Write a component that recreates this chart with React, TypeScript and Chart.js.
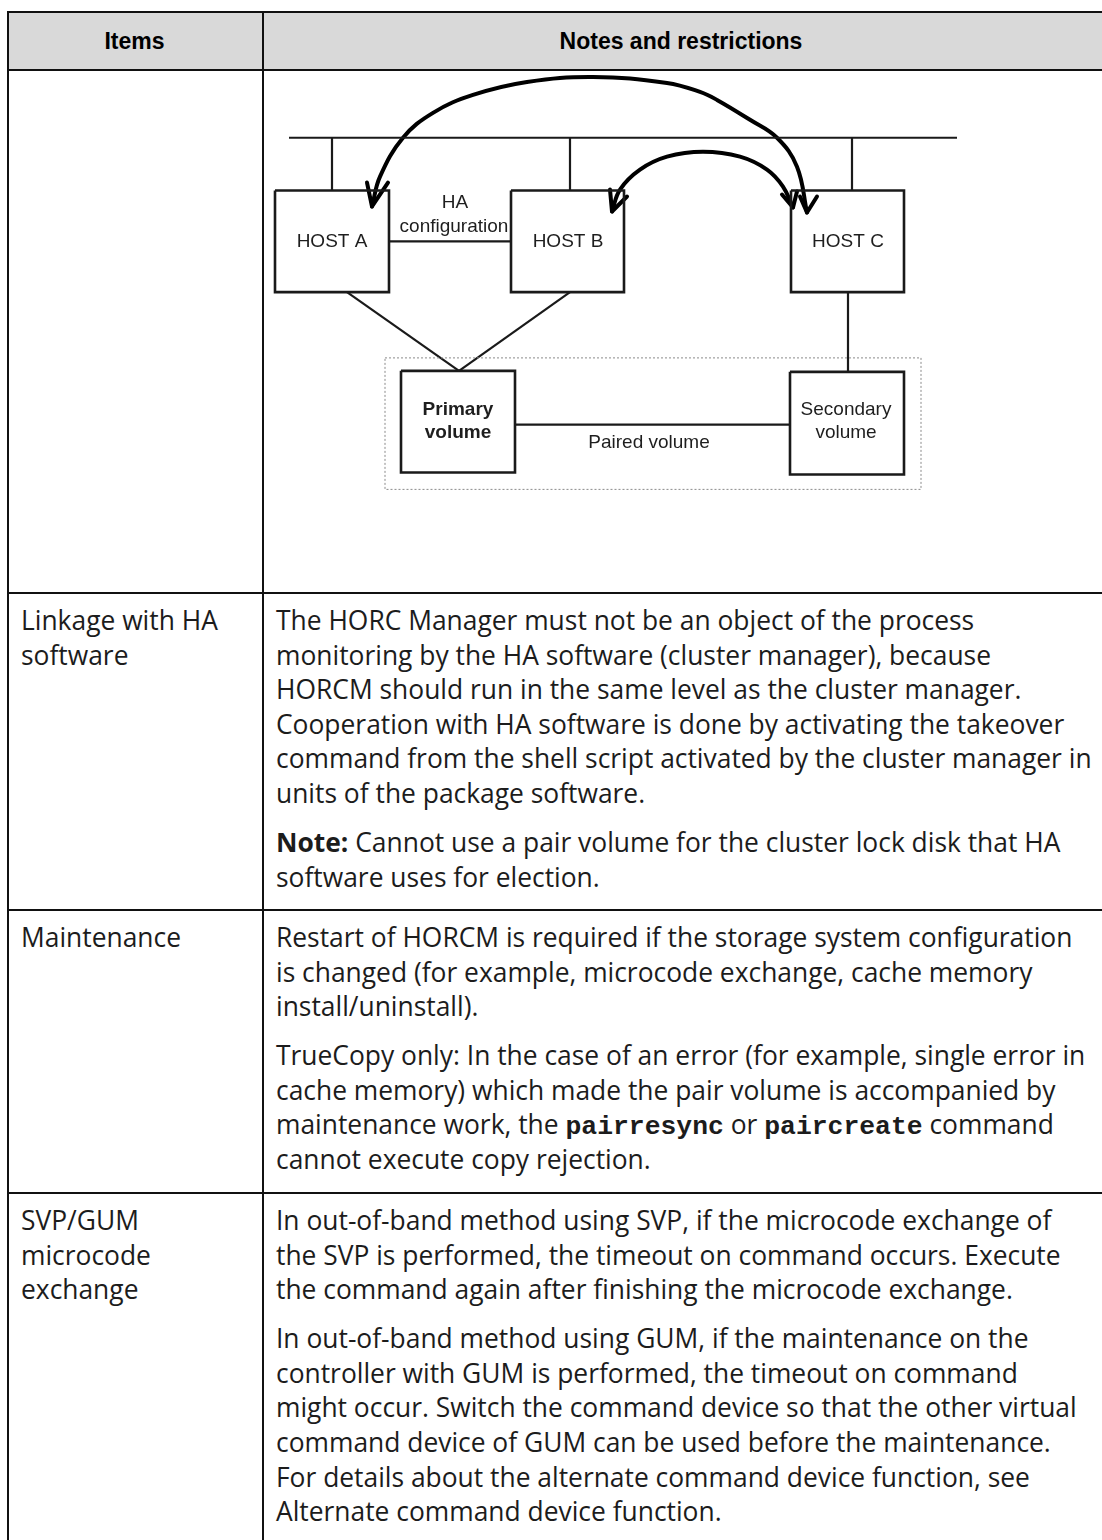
import React, { useEffect, useRef } from 'react';
import { Chart, registerables } from 'chart.js';

Chart.register(...registerables);

// ---------- Diagram data (diagram units inside the cell) ----------
const nodeLabels: string[][] = [['HOST A'], ['HOST B'], ['HOST C'], ['Primary', 'volume'], ['Secondary', 'volume']];
const nodeBold = [false, false, false, true, false];
const nodeLeft = [11, 247, 527, 137, 526];
const nodeRight = [125, 360, 640, 251, 640];
const nodeTop = [119, 119, 119, 300, 301];
const nodeBottom = [221, 221, 221, 402, 404];
const nodeLabelX = [68, 304, 584, 194, 582];
const nodeLabelY = [170, 170, 170, 351, 351];

const busX = [25, 693];
const busY = [66, 66];
const dropX = [68, 306, 588];
const dropTopY = [66, 66, 66];
const dropBottomY = [119, 119, 119];

// connections: [x1, y1, x2, y2]
const linkX1 = [125, 83, 306, 584, 251];
const linkY1 = [170, 221, 221, 221, 354];
const linkX2 = [247, 195, 195, 584, 526];
const linkY2 = [170, 300, 300, 301, 354];

const groupX = [121, 657];
const groupY = [287, 419];

const bigArcX = [108, 116, 139, 169, 209, 263, 329, 403, 436, 453, 486, 513, 533, 543];
const bigArcY = [135, 105, 66, 41, 23, 10, 5, 11, 20, 28, 48, 66, 95, 141];
const smallArcX = [348, 356, 376, 403, 439, 476, 503, 519, 529];
const smallArcY = [140, 118, 98, 85, 80, 85, 98, 115, 136];

const headX = [[103, 108, 124], [346, 348, 363], [536, 543, 553], [518, 529, 533]];
const headY = [[111, 135, 111], [118, 140, 125], [125, 141, 125], [123, 136, 120]];

const freeText = ['HA', 'configuration', 'Paired volume'];
const freeTextX = [191, 190, 385];
const freeTextY = [131, 155, 372];

// ---------- Table text ----------
const headerItems = 'Items';
const headerNotes = 'Notes and restrictions';
const itemLabels: string[][] = [['Linkage with HA', 'software'], ['Maintenance'], ['SVP/GUM', 'microcode', 'exchange']];

type Seg = { t: string; b?: boolean; m?: boolean };
const notes: Seg[][][][] = [
  [
    [
      [{ t: 'The HORC Manager must not be an object of the process' }],
      [{ t: 'monitoring by the HA software (cluster manager), because' }],
      [{ t: 'HORCM should run in the same level as the cluster manager.' }],
      [{ t: 'Cooperation with HA software is done by activating the takeover' }],
      [{ t: 'command from the shell script activated by the cluster manager in' }],
      [{ t: 'units of the package software.' }],
    ],
    [
      [{ t: 'Note:', b: true }, { t: ' Cannot use a pair volume for the cluster lock disk that HA' }],
      [{ t: 'software uses for election.' }],
    ],
  ],
  [
    [
      [{ t: 'Restart of HORCM is required if the storage system configuration' }],
      [{ t: 'is changed (for example, microcode exchange, cache memory' }],
      [{ t: 'install/uninstall).' }],
    ],
    [
      [{ t: 'TrueCopy only: In the case of an error (for example, single error in' }],
      [{ t: 'cache memory) which made the pair volume is accompanied by' }],
      [{ t: 'maintenance work, the ' }, { t: 'pairresync', m: true }, { t: ' or ' }, { t: 'paircreate', m: true }, { t: ' command' }],
      [{ t: 'cannot execute copy rejection.' }],
    ],
  ],
  [
    [
      [{ t: 'In out-of-band method using SVP, if the microcode exchange of' }],
      [{ t: 'the SVP is performed, the timeout on command occurs. Execute' }],
      [{ t: 'the command again after finishing the microcode exchange.' }],
    ],
    [
      [{ t: 'In out-of-band method using GUM, if the maintenance on the' }],
      [{ t: 'controller with GUM is performed, the timeout on command' }],
      [{ t: 'might occur. Switch the command device so that the other virtual' }],
      [{ t: 'command device of GUM can be used before the maintenance.' }],
      [{ t: 'For details about the alternate command device function, see' }],
      [{ t: 'Alternate command device function.' }],
    ],
  ],
];

// ---------- layout ----------
const TABLE_LEFT = 7;
const TABLE_TOP = 11;
const COL_DIV = 262;
const PAGE_W = 1102;
const PAGE_H = 1540;
const HEADER_BOTTOM = 69;
const ROW_LINES = [592, 909, 1192];
const LINE = 2;
const TEXT_FONT = '"Open Sans", "Noto Sans", sans-serif';
const TEXT_SIZE = 26.4;
const LINE_H = 34.6;
const PARA_GAP = 14.5;
const TEXT_COLOR = '#1c1c1c';

function Diagram() {
  const ref = useRef<HTMLCanvasElement | null>(null);
  useEffect(() => {
    if (!ref.current) return;
    const black = '#1a1a1a';
    const datasets: any[] = [];
    const line = (pts: { x: number; y: number }[], extra: any = {}) =>
      datasets.push({
        data: pts,
        showLine: true,
        borderColor: black,
        borderWidth: 2.2,
        pointRadius: 0,
        tension: 0,
        fill: false,
        ...extra,
      });
    // group (dashed)
    line(
      [
        { x: groupX[0], y: groupY[0] },
        { x: groupX[1], y: groupY[0] },
        { x: groupX[1], y: groupY[1] },
        { x: groupX[0], y: groupY[1] },
        { x: groupX[0], y: groupY[0] },
      ],
      { borderColor: '#8a8a8a', borderWidth: 1, borderDash: [2, 2] }
    );
    // bus
    line([{ x: busX[0], y: busY[0] }, { x: busX[1], y: busY[1] }]);
    dropX.forEach((x, i) => line([{ x, y: dropTopY[i] }, { x, y: dropBottomY[i] }]));
    linkX1.forEach((x, i) => line([{ x, y: linkY1[i] }, { x: linkX2[i], y: linkY2[i] }]));
    // boxes
    nodeLeft.forEach((l, i) =>
      line(
        [
          { x: l, y: nodeTop[i] },
          { x: nodeRight[i], y: nodeTop[i] },
          { x: nodeRight[i], y: nodeBottom[i] },
          { x: l, y: nodeBottom[i] },
          { x: l, y: nodeTop[i] },
        ],
        { borderWidth: 2.6, borderJoinStyle: 'miter' }
      )
    );
    // arcs
    line(bigArcX.map((x, i) => ({ x, y: bigArcY[i] })), { borderColor: '#000', borderWidth: 4, tension: 0.4, borderCapStyle: 'round' });
    line(smallArcX.map((x, i) => ({ x, y: smallArcY[i] })), { borderColor: '#000', borderWidth: 4, tension: 0.4, borderCapStyle: 'round' });
    headX.forEach((xs, i) =>
      line(xs.map((x, j) => ({ x, y: headY[i][j] })), { borderColor: '#000', borderWidth: 4, borderCapStyle: 'round', borderJoinStyle: 'round' })
    );

    const labelPlugin = {
      id: 'diagramLabels',
      afterDatasetsDraw(chart: any) {
        const { ctx } = chart;
        const xs = chart.scales.x;
        const ys = chart.scales.y;
        ctx.save();
        ctx.fillStyle = '#1e1e1e';
        ctx.textAlign = 'center';
        ctx.textBaseline = 'middle';
        nodeLabels.forEach((lines, i) => {
          ctx.font = `${nodeBold[i] ? 'bold ' : ''}19px "Liberation Sans", Arial, sans-serif`;
          const n = lines.length;
          lines.forEach((t, j) => {
            const yy = nodeLabelY[i] + (j - (n - 1) / 2) * 23;
            ctx.fillText(t, xs.getPixelForValue(nodeLabelX[i]), ys.getPixelForValue(yy));
          });
        });
        ctx.font = '19px "Liberation Sans", Arial, sans-serif';
        freeText.forEach((t, i) => {
          ctx.fillText(t, xs.getPixelForValue(freeTextX[i]), ys.getPixelForValue(freeTextY[i]));
        });
        ctx.restore();
      },
    };

    const chart = new Chart(ref.current, {
      type: 'scatter',
      data: { datasets },
      options: {
        responsive: false,
        animation: false,
        events: [],
        layout: { padding: 0 },
        plugins: { legend: { display: false }, tooltip: { enabled: false } },
        scales: {
          x: { type: 'linear', min: 0, max: 838, display: false },
          y: { type: 'linear', min: 0, max: 520, reverse: true, display: false },
        },
      } as any,
      plugins: [labelPlugin],
    });
    return () => chart.destroy();
  }, []);
  return (
    <canvas
      ref={ref}
      width={838}
      height={518}
      style={{ position: 'absolute', left: COL_DIV + 2, top: HEADER_BOTTOM + 3, width: 838, height: 518 }}
    />
  );
}

function Segs({ segs }: { segs: Seg[] }) {
  return (
    <div style={{ whiteSpace: 'nowrap', height: LINE_H, lineHeight: LINE_H + 'px' }}>
      {segs.map((s, i) =>
        s.m ? (
          <span
            key={i}
            style={{ fontFamily: '"Liberation Mono", "DejaVu Sans Mono", monospace', fontWeight: 700, fontSize: TEXT_SIZE, lineHeight: 1 }}
          >
            {s.t}
          </span>
        ) : s.b ? (
          <b key={i}>{s.t}</b>
        ) : (
          <span key={i}>{s.t}</span>
        )
      )}
    </div>
  );
}

export default function App() {
  useEffect(() => {
    document.body.style.overflow = 'hidden';
  }, []);
  const hLine = (y: number, key: string) => (
    <div key={key} style={{ position: 'absolute', left: TABLE_LEFT, top: y, width: PAGE_W - TABLE_LEFT, height: LINE, background: '#111' }} />
  );
  const vLine = (x: number, key: string) => (
    <div key={key} style={{ position: 'absolute', left: x, top: TABLE_TOP, width: LINE, height: PAGE_H - TABLE_TOP, background: '#111' }} />
  );
  const rowTops = ROW_LINES;
  const headStyle: React.CSSProperties = {
    position: 'absolute',
    top: TABLE_TOP + 2,
    height: HEADER_BOTTOM - TABLE_TOP - 2,
    display: 'flex',
    alignItems: 'center',
    justifyContent: 'center',
    font: 'bold 23px "Liberation Sans", Arial, sans-serif',
    color: '#000',
  };
  return (
    <div style={{ position: 'absolute', left: 0, top: 0, width: PAGE_W, height: PAGE_H, overflow: 'hidden', background: '#fff' }}>
      <div
        style={{
          position: 'absolute',
          left: TABLE_LEFT,
          top: TABLE_TOP,
          width: PAGE_W - TABLE_LEFT,
          height: HEADER_BOTTOM - TABLE_TOP,
          background: '#d9d9d9',
        }}
      />
      <div style={{ ...headStyle, left: TABLE_LEFT, width: COL_DIV - TABLE_LEFT }}>{headerItems}</div>
      <div style={{ ...headStyle, left: COL_DIV, width: 1100 - COL_DIV }}>{headerNotes}</div>
      <Diagram />
      {itemLabels.map((lines, r) => (
        <div
          key={'l' + r}
          style={{
            position: 'absolute',
            left: 21,
            top: rowTops[r] + 11,
            fontFamily: TEXT_FONT,
            fontSize: TEXT_SIZE,
            color: TEXT_COLOR,
          }}
        >
          {lines.map((t, i) => (
            <div key={i} style={{ whiteSpace: 'nowrap', height: LINE_H, lineHeight: LINE_H + 'px' }}>
              {t}
            </div>
          ))}
        </div>
      ))}
      {notes.map((paras, r) => (
        <div
          key={'n' + r}
          style={{
            position: 'absolute',
            left: 276,
            top: rowTops[r] + 11,
            fontFamily: TEXT_FONT,
            fontSize: TEXT_SIZE,
            color: TEXT_COLOR,
          }}
        >
          {paras.map((lines, p) => (
            <div key={p} style={{ marginBottom: PARA_GAP }}>
              {lines.map((segs, i) => (
                <Segs key={i} segs={segs} />
              ))}
            </div>
          ))}
        </div>
      ))}
      {hLine(TABLE_TOP, 'top')}
      {hLine(HEADER_BOTTOM, 'hb')}
      {ROW_LINES.map((y, i) => hLine(y, 'r' + i))}
      {vLine(TABLE_LEFT, 'vl')}
      {vLine(COL_DIV, 'vd')}
    </div>
  );
}
